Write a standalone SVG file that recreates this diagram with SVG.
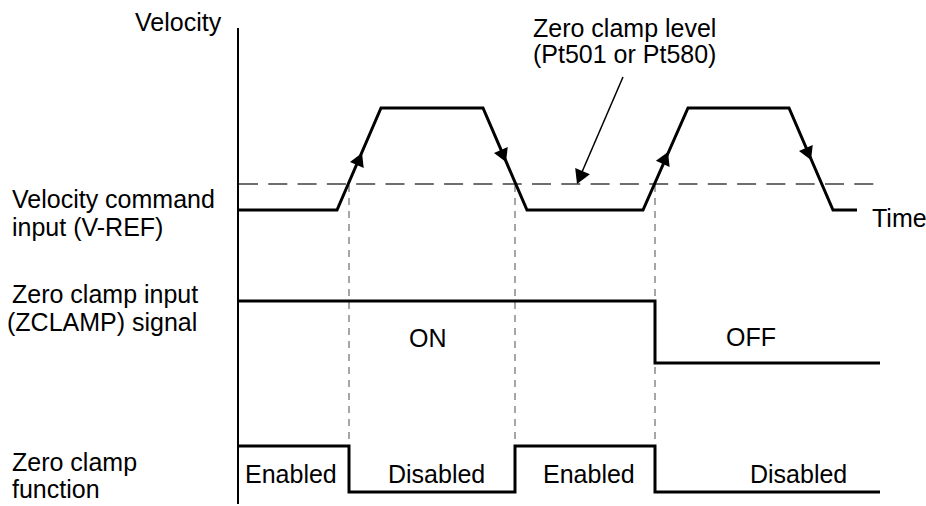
<svg xmlns="http://www.w3.org/2000/svg" xmlns:xlink="http://www.w3.org/1999/xlink" width="926" height="506" viewBox="0 0 926 506">
<style>
text{font-family:"Liberation Sans",Arial,sans-serif;font-size:25px;fill:#000}
.sig{fill:none;stroke:#000;stroke-width:3;stroke-linejoin:miter}
.axis{fill:none;stroke:#000;stroke-width:2}
.lvl{fill:none;stroke:#6e6e6e;stroke-width:2;stroke-dasharray:19 10.3}
.vd{fill:none;stroke:#777;stroke-width:1.3;stroke-dasharray:7 6}
.lead{fill:none;stroke:#000;stroke-width:1.5}
</style>
<defs>
<path id="ah" d="M0,0 L-13,-7.5 L-13,7.5 Z" fill="#000"/>
<path id="ah2" d="M0,0 L-14,-8 L-14,8 Z" fill="#000"/>
</defs>
<rect width="926" height="506" fill="#fff"/>
<g id="labels">
<text x="135" y="31">Velocity</text>
<text x="12" y="208">Velocity command</text>
<text x="12" y="236">input (V-REF)</text>
<text x="12" y="303">Zero clamp input</text>
<text x="7" y="331">(ZCLAMP) signal</text>
<text x="12" y="471">Zero clamp</text>
<text x="12" y="498">function</text>
<text x="872" y="227">Time</text>
</g>
<g id="axis">
<line class="axis" x1="238" y1="28" x2="238" y2="504"/>
</g>
<g id="zero-clamp-level">
<line class="lvl" x1="239" y1="184" x2="875" y2="184"/>
<text x="533" y="37">Zero clamp level</text>
<text x="533" y="63">(Pt501 or Pt580)</text>
</g>
<g id="connectors">
<line class="vd" x1="349" y1="185" x2="349" y2="446"/>
<line class="vd" x1="515" y1="185" x2="515" y2="446"/>
<line class="vd" x1="655" y1="185" x2="655" y2="446"/>
<line class="lead" x1="623" y1="77" x2="582" y2="172"/>
<use xlink:href="#ah2" transform="translate(577,184) rotate(113.3)"/>
</g>
<g id="velocity-command">
<polyline class="sig" points="238,210 337,210 381,108 483,108 527,210 643,210 688,108 789,108 833,210 857,210"/>
<use xlink:href="#ah" transform="translate(362,153) rotate(-66.7)"/>
<use xlink:href="#ah" transform="translate(506,162) rotate(66.7)"/>
<use xlink:href="#ah" transform="translate(668,152) rotate(-66.2)"/>
<use xlink:href="#ah" transform="translate(811,160) rotate(66.7)"/>
</g>
<g id="zclamp-signal">
<polyline class="sig" points="238,301 655,301 655,363 880,363"/>
<text x="409" y="347">ON</text>
<text x="726" y="346">OFF</text>
</g>
<g id="zclamp-function">
<polyline class="sig" points="238,446 349,446 349,492 515,492 515,446 655,446 655,492 880,492"/>
<text x="245" y="483">Enabled</text>
<text x="388" y="483">Disabled</text>
<text x="543" y="483">Enabled</text>
<text x="750" y="483">Disabled</text>
</g>
</svg>
